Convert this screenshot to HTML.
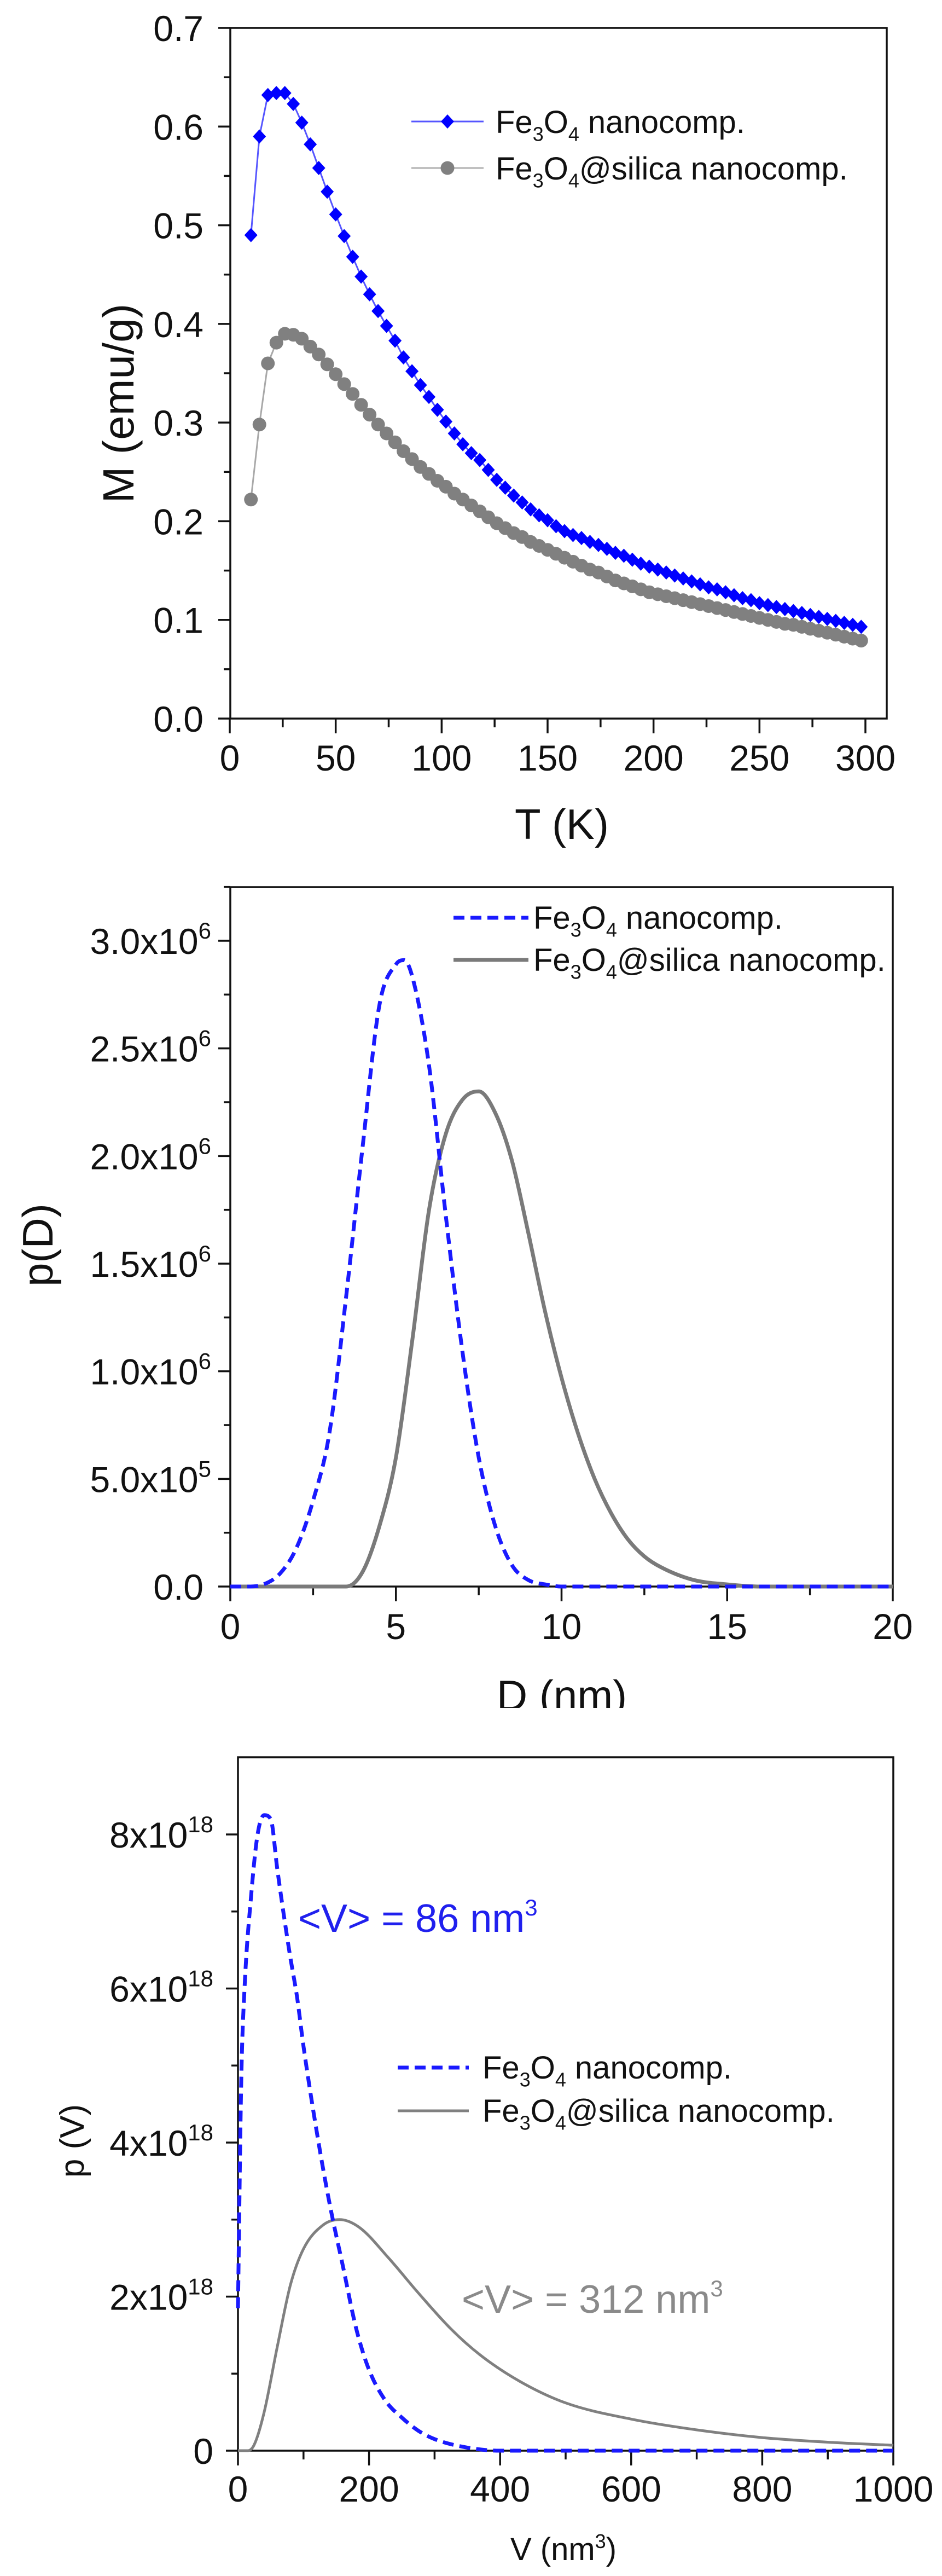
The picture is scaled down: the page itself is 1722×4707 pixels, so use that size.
<!DOCTYPE html>
<html><head><meta charset="utf-8"><style>
html,body{margin:0;padding:0;background:#fff;}
svg{display:block;font-family:"Liberation Sans",Arial,sans-serif;}
</style></head><body>
<svg id="fig" width="1722" height="4707" viewBox="0 0 1722 4707" xmlns="http://www.w3.org/2000/svg">
<defs><clipPath id="clipD"><rect x="0" y="3000" width="1722" height="121"/></clipPath></defs>
</svg>
<script>
// ---------- Chart 1 data: M vs T ----------
const T_K=[10,14,18,22,26,30,34,38,42,46,50,54,58,62,66,70,74,78,82,86,90,94,98,102,106,110,114,118,122,126,130,134,138,142,146,150,154,158,162,166,170,174,178,182,186,190,194,198,202,206,210,214,218,222,226,230,234,238,242,246,250,254,258,262,266,270,274,278,282,286,290,294,298];
const M_fe3o4=[.490,.590,.632,.634,.634,.623,.604,.582,.558,.534,.511,.489,.468,.448,.430,.413,.398,.383,.366,.352,.338,.326,.313,.301,.289,.278,.269,.262,.252,.242,.234,.226,.219,.212,.206,.201,.195,.190,.186,.183,.179,.176,.172,.168,.165,.161,.157,.154,.151,.148,.145,.142,.139,.136,.133,.131,.128,.125,.122,.120,.117,.115,.113,.111,.109,.107,.105,.103,.101,.099,.097,.095,.093];
const M_silica=[.222,.298,.360,.381,.390,.389,.385,.377,.369,.359,.349,.339,.329,.318,.308,.298,.289,.280,.271,.263,.255,.248,.241,.235,.228,.222,.216,.210,.204,.198,.193,.188,.184,.179,.175,.171,.167,.163,.159,.155,.151,.148,.144,.140,.137,.134,.131,.128,.126,.124,.122,.120,.118,.116,.114,.112,.110,.108,.106,.104,.102,.100,.098,.096,.095,.093,.091,.089,.087,.085,.083,.081,.079];
const T_ticks=[0,50,100,150,200,250,300];
const M_ticks=[0,0.1,0.2,0.3,0.4,0.5,0.6,0.7];
const M_tickLabels=["0.0","0.1","0.2","0.3","0.4","0.5","0.6","0.7"];
// ---------- Chart 2 data: p(D) ----------
const D_fe3o4=[0,0.5,1,1.5,2,2.5,3,3.5,4,4.5,5,5.25,5.5,6,6.5,7,7.5,8,8.5,9,9.5,10,12,15,20];
const pD_fe3o4=[0,0,0.01,0.06,0.18,0.40,0.72,1.35,2.05,2.70,2.89,2.91,2.83,2.42,1.73,1.10,0.60,0.28,0.10,0.03,0.01,0,0,0,0];
const D_silica=[0,3.5,4,4.5,5,5.5,6,6.5,7,7.5,8,8.5,9,9.5,10,10.5,11,11.5,12,12.5,13,14,15,16,20];
const pD_silica=[0,0,0.07,0.28,0.60,1.15,1.75,2.10,2.26,2.30,2.20,1.98,1.64,1.28,0.97,0.71,0.50,0.34,0.22,0.14,0.09,0.03,0.01,0,0];
const D_ticks=[0,5,10,15,20];
const pD_ticks=[0,0.5,1.0,1.5,2.0,2.5,3.0];
const pD_tickMant=["0.0","5.0x10","1.0x10","1.5x10","2.0x10","2.5x10","3.0x10"];
const pD_tickExp=["","5","6","6","6","6","6"];
// ---------- Chart 3 data: p(V) ----------
const V_fe3o4=[0,5,10,20,30,40,50,60,70,80,90,100,120,140,160,180,200,225,250,275,300,350,400,1000];
const pV_fe3o4=[1.85,4.8,6.0,7.2,8.0,8.25,8.2,7.55,6.95,6.4,5.9,5.25,4.15,3.2,2.4,1.6,1.05,0.65,0.43,0.26,0.15,0.04,0,0];
const V_silica=[0,15,25,40,60,80,100,130,155,185,230,275,325,370,430,500,600,700,800,900,1000];
const pV_silica=[0,0,0.08,0.5,1.35,2.15,2.62,2.93,3.0,2.9,2.5,2.05,1.58,1.24,0.9,0.62,0.41,0.27,0.17,0.11,0.07];
const V_ticks=[0,200,400,600,800,1000];
const pV_ticks=[0,2,4,6,8];
const pV_tickMant=["0","2x10","4x10","6x10","8x10"];
const pV_tickExp=["","18","18","18","18"];

const svg=document.getElementById('fig');
const NS="http://www.w3.org/2000/svg";
function mk(tag,attrs,parent){const e=document.createElementNS(NS,tag);for(const k in attrs)e.setAttribute(k,attrs[k]);(parent||svg).appendChild(e);return e;}
function lin(d0,d1,p0,p1){return v=>p0+(v-d0)*(p1-p0)/(d1-d0);}
function path(xs,ys,sx,sy){return xs.map((x,i)=>(i?'L':'M')+sx(x).toFixed(1)+' '+sy(ys[i]).toFixed(1)).join(' ');}
// monotone cubic (Fritsch-Carlson) smooth path, no overshoot
function smooth(xs,ys,sx,sy){
  const X=xs.map(sx),Y=ys.map(sy),n=X.length;
  const d=[],m=[];
  for(let i=0;i<n-1;i++)d.push((Y[i+1]-Y[i])/(X[i+1]-X[i]));
  m[0]=d[0];m[n-1]=d[n-2];
  for(let i=1;i<n-1;i++){m[i]=(d[i-1]*d[i]<=0)?0:(d[i-1]+d[i])/2;}
  for(let i=0;i<n-1;i++){
    if(d[i]===0){m[i]=0;m[i+1]=0;continue;}
    const a=m[i]/d[i],b=m[i+1]/d[i],s=a*a+b*b;
    if(s>9){const t=3/Math.sqrt(s);m[i]=t*a*d[i];m[i+1]=t*b*d[i];}
  }
  let p='M'+X[0].toFixed(1)+' '+Y[0].toFixed(1);
  for(let i=0;i<n-1;i++){const h=(X[i+1]-X[i])/3;
    p+=' C'+(X[i]+h).toFixed(1)+' '+(Y[i]+m[i]*h).toFixed(1)+' '+(X[i+1]-h).toFixed(1)+' '+(Y[i+1]-m[i+1]*h).toFixed(1)+' '+X[i+1].toFixed(1)+' '+Y[i+1].toFixed(1);}
  return p;
}
function addTspan(t,txt,attrs){const s=mk('tspan',attrs||{},t);s.textContent=txt;return s;}

function frame(name,x0,x1,y0,y1){
  const g=mk('g',{});
  
  
  const r=mk('rect',{x:x0,y:y0,width:x1-x0,height:y1-y0,fill:'none',stroke:'#111','stroke-width':3.5},g);
  
  
  return g;
}
function xTicks(g,name,vals,minorStep,sx,yb,major,minor){
  vals.forEach(v=>{const l=mk('line',{x1:sx(v),x2:sx(v),y1:yb,y2:yb+major,stroke:'#111','stroke-width':3.5},g);
    
    });
  for(let i=0;i<vals.length-1;i++){const v=(vals[i]+vals[i+1])/2;
    const l=mk('line',{x1:sx(v),x2:sx(v),y1:yb,y2:yb+minor,stroke:'#111','stroke-width':3.5},g);
    
    }
}
function yTicks(g,name,vals,sy,xl,major,minor){
  vals.forEach(v=>{const l=mk('line',{x1:xl-major,x2:xl,y1:sy(v),y2:sy(v),stroke:'#111','stroke-width':3.5},g);
    
    });
  for(let i=0;i<vals.length-1;i++){const v=(vals[i]+vals[i+1])/2;
    const l=mk('line',{x1:xl-minor,x2:xl,y1:sy(v),y2:sy(v),stroke:'#111','stroke-width':3.5},g);
    
    }
}
function legendText(x,y,fs,silica,name){
  const t=mk('text',{x:x,y:y,'font-size':fs,fill:'#111'});
  
  
  addTspan(t,'Fe');addTspan(t,'3',{dy:fs*0.25,'font-size':fs*0.62});
  addTspan(t,'O',{dy:-fs*0.25});addTspan(t,'4',{dy:fs*0.25,'font-size':fs*0.62});
  addTspan(t,silica?'@silica nanocomp.':' nanocomp.',{dy:-fs*0.25});
  return t;
}
svg.setAttribute('font-weight','500');

// ================= CHART 1 =================
{
 const sx=lin(0,300,420,1582), sy=lin(0,0.7,1313,51);
 const g=frame('m-vs-t',421,1621,51,1313);
 xTicks(g,'m-vs-t',T_ticks,25,sx,1313,27,16);
 yTicks(g,'m-vs-t',M_ticks,sy,421,22,12);
 T_ticks.forEach(v=>{const t=mk('text',{x:sx(v),y:1408,'font-size':66,'text-anchor':'middle',fill:'#111'});
   
   
   t.textContent=v;});
 M_ticks.forEach((v,i)=>{const t=mk('text',{x:372,y:sy(v)+24,'font-size':66,'text-anchor':'end',fill:'#111'});
   
   
   t.textContent=M_tickLabels[i];});
 const xt=mk('text',{x:1027,y:1533,'font-size':78,'text-anchor':'middle',fill:'#111'});
 
 
 xt.textContent='T (K)';
 const yt=mk('text',{x:0,y:0,'font-size':80,'text-anchor':'middle',fill:'#111',transform:'translate(244,737) rotate(-90)'});
 
 
 yt.textContent='M (emu/g)';
 const lg=mk('path',{d:path(T_K,M_silica,sx,sy),fill:'none',stroke:'#a8a8a8','stroke-width':3});
 
 
 T_K.forEach((x,i)=>{const c=mk('circle',{cx:sx(x),cy:sy(M_silica[i]),r:12.5,fill:'#808080'});
   
   });
 const lb=mk('path',{d:path(T_K,M_fe3o4,sx,sy),fill:'none',stroke:'#5555ff','stroke-width':3});
 
 
 T_K.forEach((x,i)=>{const X=sx(x),Y=sy(M_fe3o4[i]);
   const p=mk('polygon',{points:`${X},${Y-13} ${X+12},${Y} ${X},${Y+13} ${X-12},${Y}`,fill:'#0000ff'});
   
   });
 const l1=mk('line',{x1:752,x2:884,y1:222,y2:222,stroke:'#5555ff','stroke-width':3});
 
 
 const d1=mk('polygon',{points:'818,209 830,222 818,235 806,222',fill:'#0000ff'});
 
 
 legendText(906,243,58,false,'legend-fe3o4-label');
 const l2=mk('line',{x1:752,x2:884,y1:307,y2:307,stroke:'#b0b0b0','stroke-width':3});
 
 
 const c2=mk('circle',{cx:818,cy:307,r:12.5,fill:'#808080'});
 
 
 legendText(906,328,58,true,'legend-silica-label');
}

// ================= CHART 2 =================
{
 const sx=lin(0,20,421,1632), sy=lin(0,3,2899,1719);
 const g=frame('p-vs-d',421,1632,1621,2899);
 xTicks(g,'p-vs-d',D_ticks,2.5,sx,2899,27,16);
 const yv=[0,0.5,1,1.5,2,2.5,3];
 yTicks(g,'p-vs-d',yv,sy,421,22,12);
 const mt=mk('line',{x1:409,x2:421,y1:sy(3.25),y2:sy(3.25),stroke:'#111','stroke-width':3.5},g);
 
 
 D_ticks.forEach(v=>{const t=mk('text',{x:sx(v),y:2995,'font-size':66,'text-anchor':'middle',fill:'#111'});
   
   
   t.textContent=v;});
 pD_ticks.forEach((v,i)=>{const t=mk('text',{x:pD_tickExp[i]?386:372,y:sy(v)+24,'font-size':66,'text-anchor':'end',fill:'#111'});
   
   
   addTspan(t,pD_tickMant[i]);
   if(pD_tickExp[i])addTspan(t,pD_tickExp[i],{dy:-28,'font-size':42});});
 const xt=mk('text',{x:1027,y:3125,'font-size':78,'text-anchor':'middle',fill:'#111','clip-path':'url(#clipD)'});
 
 
 xt.textContent='D (nm)';
 const yt=mk('text',{x:0,y:0,'font-size':78,'text-anchor':'middle',fill:'#111',transform:'translate(96,2275) rotate(-90)'});
 
 
 yt.textContent='p(D)';
 const gs=mk('path',{d:smooth(D_silica,pD_silica,sx,sy),fill:'none',stroke:'#7a7a7a','stroke-width':7,'stroke-linejoin':'round'});
 
 
 const bs=mk('path',{d:smooth(D_fe3o4,pD_fe3o4,sx,sy),fill:'none',stroke:'#1a1aff','stroke-width':7,'stroke-dasharray':'20 11','stroke-linejoin':'round'});
 
 
 const l1=mk('line',{x1:829,x2:966,y1:1677,y2:1677,stroke:'#1a1aff','stroke-width':7,'stroke-dasharray':'20 11'});
 
 
 legendText(975,1697,58,false,'legend-fe3o4-label');
 const l2=mk('line',{x1:829,x2:966,y1:1754,y2:1754,stroke:'#7a7a7a','stroke-width':7});
 
 
 legendText(975,1774,58,true,'legend-silica-label');
}

// ================= CHART 3 =================
{
 const sx=lin(0,1000,435,1633), sy=lin(0,8,4478,3352);
 const g=frame('p-vs-v',435,1633,3211,4478);
 xTicks(g,'p-vs-v',V_ticks,100,sx,4478,27,16);
 yTicks(g,'p-vs-v',pV_ticks,sy,435,22,12);
 V_ticks.forEach(v=>{const t=mk('text',{x:sx(v),y:4571,'font-size':66,'text-anchor':'middle',fill:'#111'});
   
   
   t.textContent=v;});
 pV_ticks.forEach((v,i)=>{const t=mk('text',{x:390,y:sy(v)+24,'font-size':66,'text-anchor':'end',fill:'#111'});
   
   
   addTspan(t,pV_tickMant[i]);
   if(pV_tickExp[i])addTspan(t,pV_tickExp[i],{dy:-28,'font-size':42});});
 const xt=mk('text',{x:1030,y:4678,'font-size':58,'text-anchor':'middle',fill:'#111'});
 
 
 addTspan(xt,'V (nm');addTspan(xt,'3',{dy:-22,'font-size':36});addTspan(xt,')',{dy:22});
 const yt=mk('text',{x:0,y:0,'font-size':62,'text-anchor':'middle',fill:'#111',transform:'translate(153,3912) rotate(-90)'});
 
 
 yt.textContent='p (V)';
 const gs=mk('path',{d:smooth(V_silica,pV_silica,sx,sy),fill:'none',stroke:'#808080','stroke-width':5,'stroke-linejoin':'round'});
 
 
 const bs=mk('path',{d:smooth(V_fe3o4,pV_fe3o4,sx,sy),fill:'none',stroke:'#1a1aff','stroke-width':7,'stroke-dasharray':'20 11','stroke-linejoin':'round'});
 
 
 const a1=mk('text',{x:545,y:3530,'font-size':72,fill:'#2020ee'});
 
 
 addTspan(a1,'<V> = 86 nm');addTspan(a1,'3',{dy:-30,'font-size':42});
 const a2=mk('text',{x:844,y:4226,'font-size':72,fill:'#8a8a8a'});
 
 
 addTspan(a2,'<V> = 312 nm');addTspan(a2,'3',{dy:-30,'font-size':42});
 const l1=mk('line',{x1:727,x2:857,y1:3778,y2:3778,stroke:'#1a1aff','stroke-width':7,'stroke-dasharray':'20 11'});
 
 
 legendText(882,3798,58,false,'legend-fe3o4-label');
 const l2=mk('line',{x1:727,x2:857,y1:3857,y2:3857,stroke:'#808080','stroke-width':5});
 
 
 legendText(882,3877,58,true,'legend-silica-label');
}
</script>
</body></html>
